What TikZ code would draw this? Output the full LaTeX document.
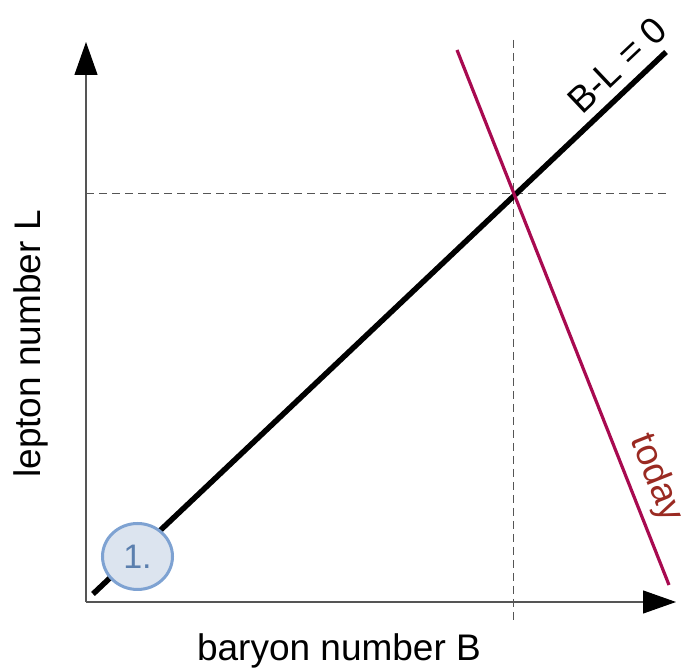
\documentclass[tikz,border=0pt]{standalone}
\usepackage{fontspec}
\setmainfont{Liberation Sans}
\usepackage{xcolor}
\usetikzlibrary{arrows.meta,positioning,calc,shapes.geometric}
\definecolor{axis}{HTML}{555555}
\definecolor{crimson}{HTML}{A80A50}
\definecolor{brick}{HTML}{9A2A22}
\definecolor{ringblue}{HTML}{7EA2D2}
\definecolor{ringfill}{HTML}{DCE4EF}
\definecolor{ringtext}{HTML}{5B7FAE}
\newcommand{\bigtxt}{\fontsize{37}{42}\selectfont}

\begin{document}
\begin{tikzpicture}[
  x=1pt, y=1pt,
  font=\bigtxt,
  axisline/.style={draw=axis, line width=1.2pt, -{Triangle[length=33pt, width=23pt, color=black]}},
  guide/.style={draw=axis, line width=0.9pt, dash pattern=on 8pt off 5pt},
  bl/.style={draw=black, line width=5.5pt},
  now/.style={draw=crimson, line width=3.2pt},
  stage/.style={ellipse, draw=ringblue, line width=3pt, fill=ringfill, text=ringtext,
    minimum width=70pt, minimum height=66pt, inner sep=0pt, font=\fontsize{34}{38}\selectfont}
]
\useasboundingbox (0,0) rectangle (683,668);
\coordinate (O) at (86,66);
\coordinate (ytip) at (86,626);
\coordinate (xtip) at (676,66);
\coordinate (bstart) at (93,74);
\coordinate (bend) at (666,616);
\coordinate (vtop) at (513,628);
\coordinate (vbot) at (513,48);
\coordinate (hleft) at (86,475);
\coordinate (hright) at (668,475);
\coordinate (rtop) at (457,618);
\coordinate (rbot) at (669,83);
% axes
\draw[axisline] (O) -- (ytip);
\draw[axisline] (O) -- (xtip);
% guides
\draw[guide] (vtop) -- (vbot);
\draw[guide] (hleft) -- (hright);
% lines
\draw[bl] (bstart) -- (bend);
\draw[now] (rtop) -- (rbot);
% labels
\node[stage] (one) at (137.5,111.5) {1.};
\node[rotate=43.4] (bllabel) at (617,603) {B-L = 0};
\node[rotate=-68.4, text=brick] (today) at (656,190) {today};
\node[rotate=90] (ylabel) at (31,324) {lepton number L};
\node (xlabel) at (339,17) {baryon number B};
\end{tikzpicture}
\end{document}
